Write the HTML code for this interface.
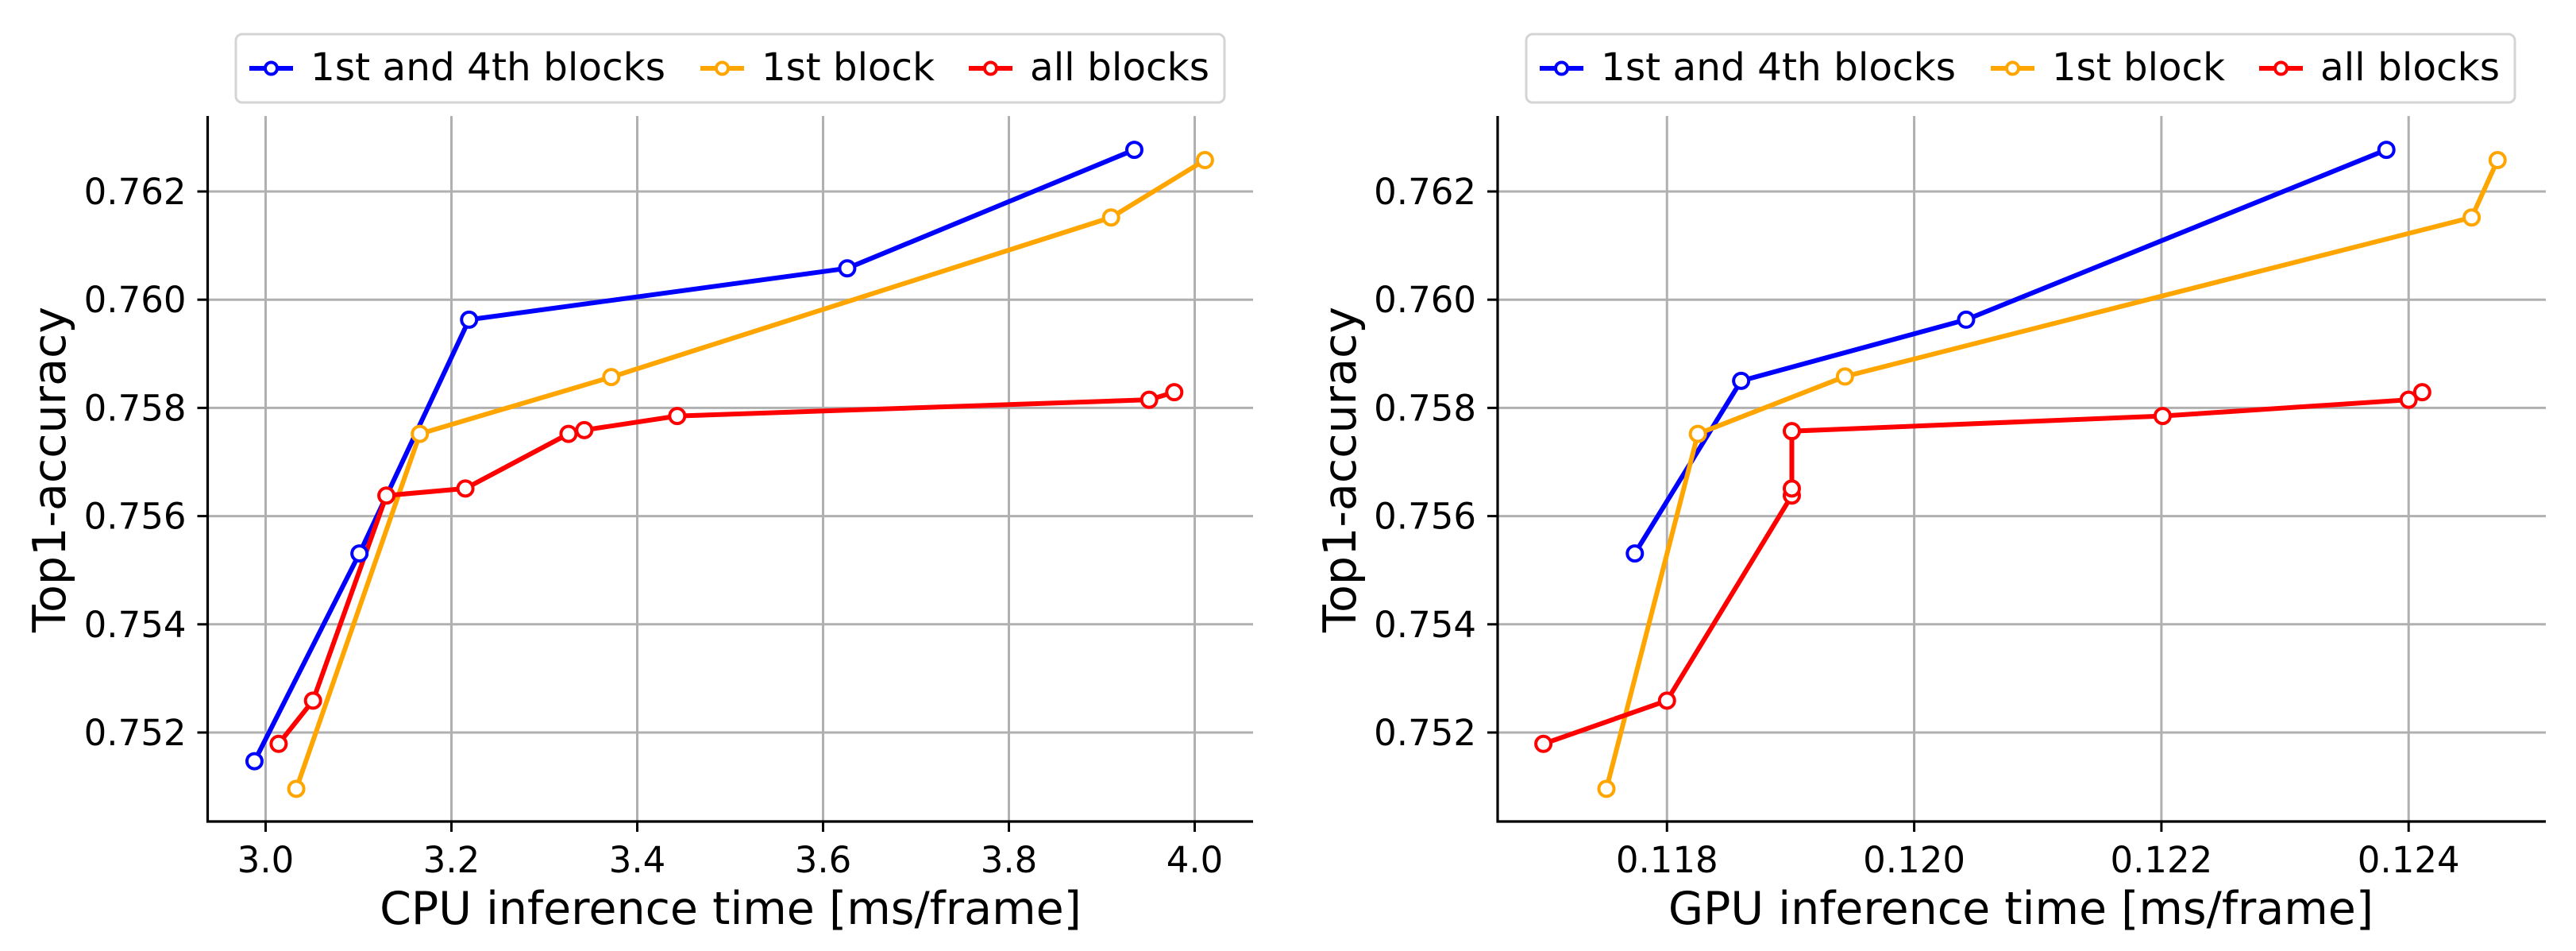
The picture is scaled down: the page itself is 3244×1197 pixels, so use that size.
<!DOCTYPE html>
<html><head><meta charset="utf-8"><style>
html,body{margin:0;padding:0;background:#fff}
svg{display:block}
text{font-family:"DejaVu Sans","Liberation Sans",sans-serif;fill:#000}
</style></head><body>
<svg id="fig" width="3244" height="1197" viewBox="0 0 3244 1197" xmlns="http://www.w3.org/2000/svg"></svg>
<script>
// ---- data ----
const seriesNames = ["1st and 4th blocks", "1st block", "all blocks"];
const seriesColors = ["#0000ff", "#ffa500", "#ff0000"];
const cpuBlueX = [2.988, 3.101, 3.219, 3.626, 3.935];
const cpuBlueY = [0.75147, 0.75531, 0.75963, 0.76058, 0.76277];
const cpuOrangeX = [3.033, 3.166, 3.372, 3.910, 4.011];
const cpuOrangeY = [0.75096, 0.75752, 0.75857, 0.76152, 0.76258];
const cpuRedX = [3.014, 3.051, 3.130, 3.215, 3.326, 3.343, 3.443, 3.951, 3.978];
const cpuRedY = [0.75179, 0.75259, 0.75638, 0.75651, 0.75752, 0.75759, 0.75785, 0.75815, 0.75829];
const gpuBlueX = [0.11774, 0.11860, 0.12042, 0.12382];
const gpuBlueY = [0.75531, 0.75850, 0.75963, 0.76277];
const gpuOrangeX = [0.11751, 0.11825, 0.11944, 0.12451, 0.12472];
const gpuOrangeY = [0.75096, 0.75752, 0.75858, 0.76152, 0.76258];
const gpuRedX = [0.11700, 0.11800, 0.11901, 0.11901, 0.11901, 0.12201, 0.12400, 0.12411];
const gpuRedY = [0.75179, 0.75259, 0.75638, 0.75651, 0.75757, 0.75785, 0.75815, 0.75829];
const yTicks = [0.752, 0.754, 0.756, 0.758, 0.760, 0.762];
const yTickLabels = ["0.752", "0.754", "0.756", "0.758", "0.760", "0.762"];
const cpuTicks = [3.0, 3.2, 3.4, 3.6, 3.8, 4.0];
const cpuTickLabels = ["3.0", "3.2", "3.4", "3.6", "3.8", "4.0"];
const gpuTicks = [0.118, 0.120, 0.122, 0.124];
const gpuTickLabels = ["0.118", "0.120", "0.122", "0.124"];

const NS = "http://www.w3.org/2000/svg";
const svg = document.getElementById("fig");
function mk(tag, attrs, parent) {
  const e = document.createElementNS(NS, tag);
  for (const k in attrs) e.setAttribute(k, attrs[k]);
  (parent || svg).appendChild(e);
  return e;
}

function panel(cfg) {
  const g = mk("g", {});
  
  
  const L = cfg.left, R = cfg.right, T = 146, B = 1034;
  const x = v => L + (v - cfg.xmin) / (cfg.xmax - cfg.xmin) * (R - L);
  const y = v => 241 + (0.762 - v) / 0.002 * 136.2;
  cfg.xt.forEach((t, i) => {
    const gl = mk("line", {x1: x(t), x2: x(t), y1: T, y2: B, stroke: "#b0b0b0", "stroke-width": 3}, g);
    
    
    const tk = mk("line", {x1: x(t), x2: x(t), y1: B, y2: B + 13, stroke: "#000", "stroke-width": 3}, g);
    
    
    const tl = mk("text", {x: x(t), y: 1098, "font-size": 45, "text-anchor": "middle"}, g);
    tl.textContent = cfg.xtl[i];
    
    
  });
  yTicks.forEach((t, i) => {
    const gl = mk("line", {x1: L, x2: R, y1: y(t), y2: y(t), stroke: "#b0b0b0", "stroke-width": 3}, g);
    
    
    const tk = mk("line", {x1: L - 13, x2: L, y1: y(t), y2: y(t), stroke: "#000", "stroke-width": 3}, g);
    
    
    const tl = mk("text", {x: L - 27, y: y(t) + 16, "font-size": 45, "text-anchor": "end"}, g);
    tl.textContent = yTickLabels[i];
    
    
  });
  const sl = mk("line", {x1: L, x2: L, y1: T, y2: B + 1.5, stroke: "#000", "stroke-width": 3.2}, g);
  
  
  const sb = mk("line", {x1: L - 1.5, x2: R, y1: B, y2: B, stroke: "#000", "stroke-width": 3.2}, g);
  
  
  cfg.series.forEach((s, si) => {
    const pts = s.x.map((v, i) => x(v) + "," + y(s.y[i])).join(" ");
    const pl = mk("polyline", {points: pts, fill: "none", stroke: seriesColors[si], "stroke-width": 6, "stroke-linejoin": "round"}, g);
    
    
  });
  cfg.series.forEach((s, si) => {
    s.x.forEach((v, i) => {
      const c = mk("circle", {cx: x(v), cy: y(s.y[i]), r: 9.5, fill: "#fff", stroke: seriesColors[si], "stroke-width": 4}, g);
      
      
    });
  });
  const xt = mk("text", {x: cfg.xtitleX, y: 1163, "font-size": 57, "text-anchor": "middle"}, g);
  xt.textContent = cfg.xtitle;
  
  
  const yt = mk("text", {x: 0, y: 0, "font-size": 57, "text-anchor": "middle", transform: "translate(" + cfg.ytitleX + ",591) rotate(-90)"}, g);
  yt.textContent = "Top1-accuracy";
  
  
  const lg = mk("g", {}, g);
  
  
  const bx = cfg.legendLeft;
  mk("rect", {x: bx, y: 43, width: 1245, height: 86, rx: 8, fill: "#fff", stroke: "#d4d4d4", "stroke-width": 3}, lg);
  const offs = [0, 568, 906];
  const tw = [447, 218, 226];
  seriesNames.forEach((n, i) => {
    const x0 = bx + 17 + offs[i];
    const e = mk("g", {}, lg);
    
    
    mk("line", {x1: x0, x2: x0 + 55, y1: 86, y2: 86, stroke: seriesColors[i], "stroke-width": 6}, e);
    mk("circle", {cx: x0 + 27.5, cy: 86, r: 7.5, fill: "#fff", stroke: seriesColors[i], "stroke-width": 4}, e);
    const t = mk("text", {x: x0 + 77, y: 101, "font-size": 48, textLength: tw[i], lengthAdjust: "spacingAndGlyphs"}, e);
    t.textContent = n;
  });
}

panel({name: "cpu-panel", left: 261.5, right: 1578, xmin: 2.9376, xmax: 4.0628,
  xt: cpuTicks, xtl: cpuTickLabels, xtitle: "CPU inference time [ms/frame]", xtitleX: 920, ytitleX: 82,
  legendLeft: 297,
  series: [{x: cpuBlueX, y: cpuBlueY}, {x: cpuOrangeX, y: cpuOrangeY}, {x: cpuRedX, y: cpuRedY}]});
panel({name: "gpu-panel", left: 1886, right: 3206, xmin: 0.11663, xmax: 0.12511,
  xt: gpuTicks, xtl: gpuTickLabels, xtitle: "GPU inference time [ms/frame]", xtitleX: 2545, ytitleX: 1707,
  legendLeft: 1922,
  series: [{x: gpuBlueX, y: gpuBlueY}, {x: gpuOrangeX, y: gpuOrangeY}, {x: gpuRedX, y: gpuRedY}]});
</script>
</body></html>
